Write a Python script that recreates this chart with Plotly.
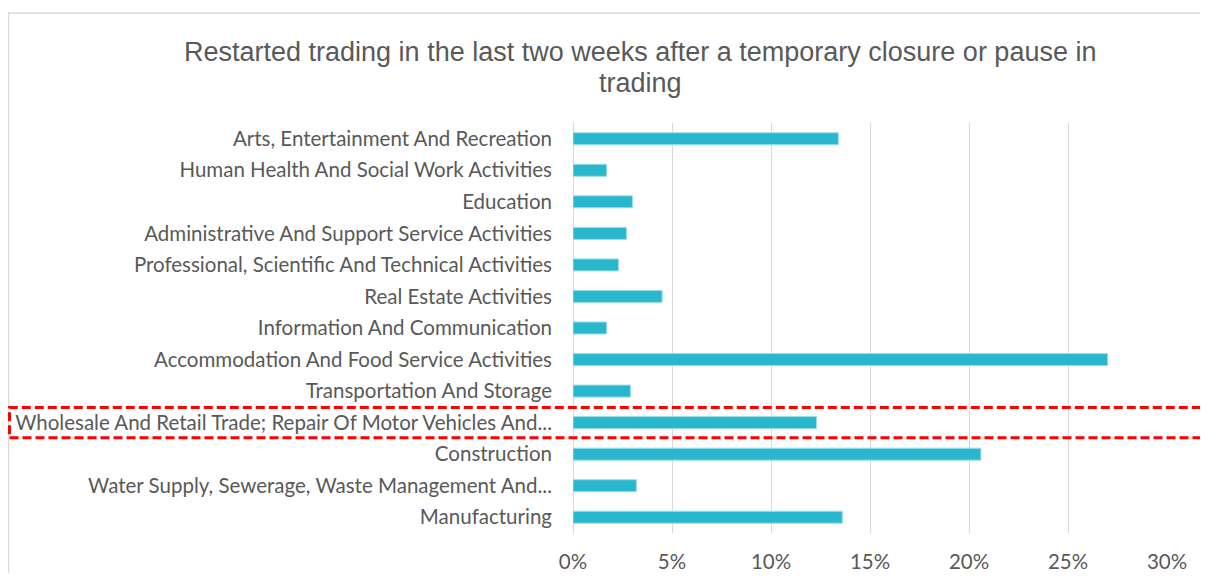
import plotly.graph_objects as go

categories = [
    "Manufacturing",
    "Water Supply, Sewerage, Waste Management And...",
    "Construction",
    "Wholesale And Retail Trade; Repair Of Motor Vehicles And...",
    "Transportation And Storage",
    "Accommodation And Food Service Activities",
    "Information And Communication",
    "Real Estate Activities",
    "Professional, Scientific And Technical Activities",
    "Administrative And Support Service Activities",
    "Education",
    "Human Health And Social Work Activities",
    "Arts, Entertainment And Recreation",
]
values = [0.136, 0.032, 0.206, 0.123, 0.029, 0.270, 0.017, 0.045, 0.023, 0.027, 0.030, 0.017, 0.134]
tick_vals = [0, 0.05, 0.10, 0.15, 0.20, 0.25, 0.30]
tick_text = ["0%", "5%", "10%", "15%", "20%", "25%", "30%"]
highlight = "Wholesale And Retail Trade; Repair Of Motor Vehicles And..."
title_lines = ["Restarted trading in the last two weeks after a temporary closure or pause in",
               "trading"]

# page has an 8px body margin; figure coords = page coords - 8
OFF = 8
W, H = 1208 - 2 * OFF, 581 - 2 * OFF
L = 573 - OFF
T = 123 - OFF
R = W - (1167 - OFF)
B = H - (533 - OFF)
pw, ph = W - L - R, H - T - B

def px_x(x):  # page pixel -> paper x
    return (x - OFF - L) / pw

def px_y(y):  # page pixel -> paper y
    return 1 - (y - OFF - T) / ph

fig = go.Figure(go.Bar(
    x=values, y=categories, orientation="h",
    marker=dict(color="#29B7CD", line=dict(color="#9BDDE8", width=1)),
    width=0.38,
))

hi = categories.index(highlight)
fig.add_shape(type="rect", xref="paper", yref="y",
              x0=px_x(9.5), x1=px_x(1240), y0=hi - 0.48, y1=hi + 0.48,
              line=dict(color="#FF0000", width=3, dash="9px,4px"), layer="above")
# chart border
fig.add_shape(type="rect", xref="paper", yref="paper",
              x0=px_x(8.5), x1=px_x(1250), y0=px_y(620), y1=px_y(13),
              line=dict(color="#D9D9D9", width=1.5), layer="below")

for line, yc in zip(title_lines, [52, 83]):
    fig.add_annotation(text=line, xref="paper", yref="paper",
                       x=px_x(640), y=px_y(yc), xanchor="center", yanchor="middle",
                       showarrow=False,
                       font=dict(family="Liberation Sans, Arial", size=27, color="#595959"))

fig.update_layout(
    width=W, height=H,
    margin=dict(l=L, r=R, t=T, b=B, autoexpand=False),
    paper_bgcolor="white", plot_bgcolor="white",
    showlegend=False,
)
fig.update_xaxes(range=[0, 0.30], tickvals=tick_vals, ticktext=tick_text,
                 automargin=False,
                 showgrid=True, gridcolor="#D9D9D9", gridwidth=1,
                 zeroline=True, zerolinecolor="#D9D9D9", zerolinewidth=1,
                 showline=False, ticks="", ticklabelstandoff=14,
                 tickfont=dict(family="Lato, Carlito, Calibri", size=20.5, color="#595959"))
fig.update_yaxes(categoryorder="array", categoryarray=categories,
                 range=[-0.5, len(categories) - 0.5], automargin=False,
                 showgrid=False, zeroline=False, showline=False, ticks="",
                 ticklabelstandoff=20,
                 tickfont=dict(family="Lato, Carlito, Calibri", size=20.5, color="#595959"))

fig.write_html("out.html")
